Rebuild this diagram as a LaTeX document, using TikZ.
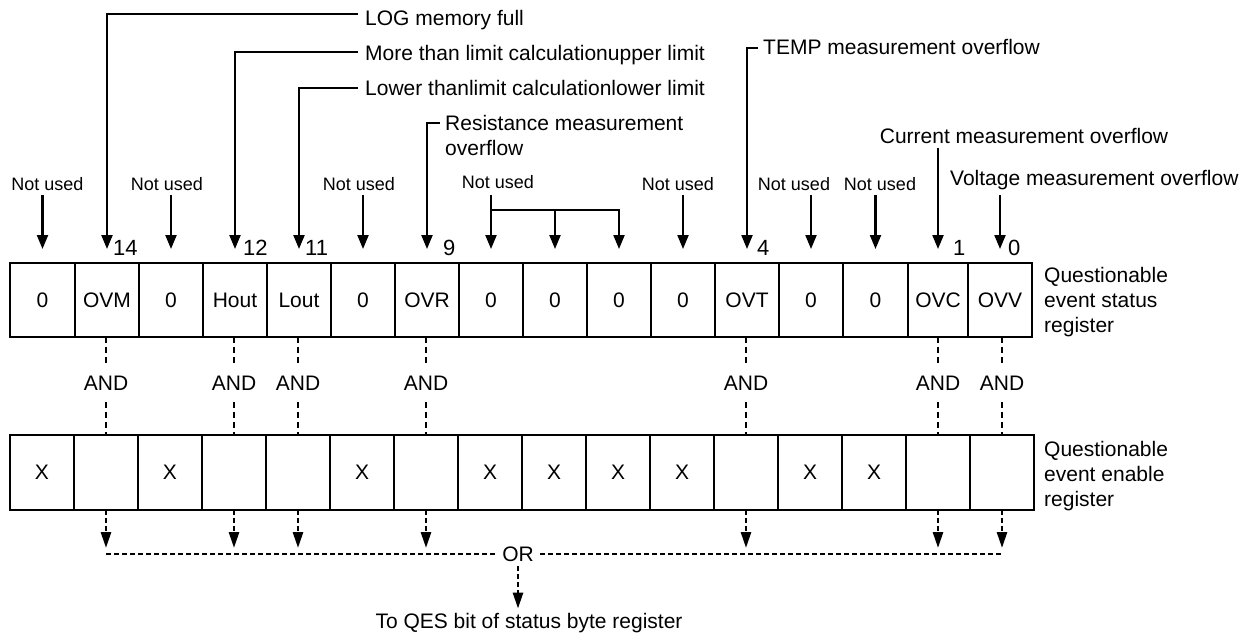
\documentclass[tikz,border=0pt]{standalone}
\usepackage{fontspec}
\setmainfont{Liberation Sans}
\usetikzlibrary{arrows.meta}
\begin{document}
\begin{tikzpicture}[x=1pt,y=-1pt,
  txt/.style={font=\fontsize{21}{25}\selectfont, inner sep=0pt},
  nu/.style={font=\fontsize{18}{21}\selectfont, inner sep=0pt, anchor=base},
  bitno/.style={font=\fontsize{22}{25}\selectfont, inner sep=0pt, anchor=base west},
  cell/.style={draw, line width=1.3pt, inner sep=0pt, outer sep=0pt, anchor=north west,
               font=\fontsize{21}{25}\selectfont},
  arr/.style={line width=2.2pt, -{Triangle[length=14pt,width=11pt]}},
  andline/.style={line width=2.6pt, dash pattern=on 6pt off 4pt},
  darr/.style={line width=2.6pt, dash pattern=on 5pt off 3pt, -{Triangle[length=16pt,width=10pt]}},
  orline/.style={line width=2.6pt, dash pattern=on 5pt off 3pt},
  gate/.style={font=\fontsize{21}{25}\selectfont, inner xsep=0pt, inner ysep=12pt},
]
\fill[white] (0,0) rectangle (1257,637);
\useasboundingbox (0,0) rectangle (1257,637);

% questionable event status register
\foreach \b/\l/\r/\t in {15/10/75/0, 14/75/139/OVM, 13/139/203/0, 12/203/267/Hout,
    11/267/331/Lout, 10/331/395/0, 9/395/459/OVR, 8/459/523/0, 7/523/587/0,
    6/587/651/0, 5/651/715/0, 4/715/779/OVT, 3/779/843/0, 2/843/908/0,
    1/908/968/OVC, 0/968/1032/OVV}
  \node[cell, minimum width=\r-\l, minimum height=74] (s\b) at (\l,263) {\t};

% questionable event enable register
\foreach \b/\t in {15/X,14/,13/X,12/,11/,10/X,9/,8/X,7/X,6/X,5/X,4/,3/X,2/X,1/,0/}
  \node[cell, minimum width=64, minimum height=75] (e\b) at ({10+64*(15-\b)},435) {\t};

\node[txt, align=left, anchor=north west] (lbs) at (1044,267) {Questionable\\event status\\register};
\node[txt, align=left, anchor=north west] (lbe) at (1044,441) {Questionable\\event enable\\register};

% unused bits
\foreach \b/\x in {15/47.5,13/167,10/359,5/678,3/794,2/880} {
  \node[nu] (n\b) at (\x,190) {Not used};
  \draw[arr, shorten <=5pt] (n\b.base -| s\b) -- ([yshift=14pt]s\b.north);
}
\node[nu] (ng) at (498,188) {Not used};
\coordinate (bar) at (0,210);
\draw[arr, shorten <=7pt] (ng.base -| s8) -- ([yshift=14pt]s8.north);
\draw[arr] (bar -| s8) -- (bar -| s6) -- ([yshift=14pt]s6.north);
\draw[arr] (bar -| s7) -- ([yshift=14pt]s7.north);

% event descriptions
\node[txt, anchor=base west] (tlog) at (365,25) {LOG memory full};
\draw[arr] ([shift={(-7pt,11pt)}]tlog.base west) -| ([yshift=14pt]s14.north);
\node[txt, anchor=base west] (thi) at (365,60) {More than limit calculationupper limit};
\draw[arr] ([shift={(-7pt,8pt)}]thi.base west) -| ([yshift=14pt]s12.north);
\node[txt, anchor=base west] (tlo) at (365,95) {Lower thanlimit calculationlower limit};
\draw[arr] ([shift={(-7pt,7pt)}]tlo.base west) -| ([yshift=14pt]s11.north);
\node[txt, align=left, anchor=north west] (tres) at (445,115) {Resistance measurement\\overflow};
\draw[arr] ([shift={(-5pt,-8pt)}]tres.north west) -| ([yshift=14pt]s9.north);
\node[txt, anchor=base west] (ttemp) at (763,54) {TEMP measurement overflow};
\draw[arr] ([shift={(-5pt,6pt)}]ttemp.base west) -| ([yshift=14pt]s4.north);
\node[txt, anchor=base] (tcur) at (1024,143) {Current measurement overflow};
\draw[arr, shorten <=5pt] (tcur.base -| s1) -- ([yshift=14pt]s1.north);
\node[txt, anchor=base west] (tvolt) at (950,185) {Voltage measurement overflow};
\draw[arr, shorten <=10pt] (tvolt.base -| s0) -- ([yshift=14pt]s0.north);

% bit numbers
\foreach \b/\x in {14/113, 12/243, 11/305, 9/443, 4/757, 1/953, 0/1008}
  \node[bitno] (b\b) at (\x,255) {\b};

% AND gating and OR summary
\coordinate (androw) at (0,383);
\coordinate (ortip) at (0,548);
\foreach \b in {14,12,11,9,4,1,0} {
  \node[gate] (a\b) at (e\b.north |- androw) {AND};
  \draw[andline] (a\b.north |- s\b.south) -- (a\b.north);
  \draw[andline] (a\b.south) -- (e\b.north);
  \draw[darr] (e\b.south) -- (e\b.south |- ortip);
}
\node[font=\fontsize{21}{25}\selectfont, inner xsep=6pt, inner ysep=4.5pt] (or) at (518,554) {OR};
\draw[orline] (e14.south |- or) -- (or.west);
\draw[orline] (or.east) -- (e0.south |- or);
\node[txt, anchor=base] (qes) at (529,628) {To QES bit of status byte register};
\draw[darr, shorten >=4pt] (or.south) -- (or.south |- qes.north);
\end{tikzpicture}
\end{document}
